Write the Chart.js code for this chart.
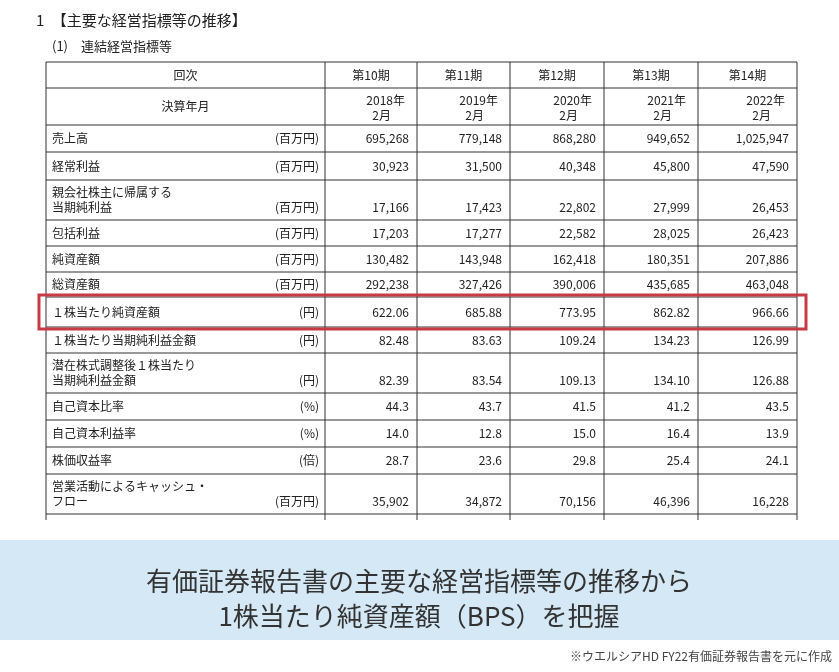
<!DOCTYPE html>
<html>
<head>
<meta charset="utf-8">
<script src="https://cdn.jsdelivr.net/npm/chart.js@4/dist/chart.umd.min.js"></script>
<style>
  html, body { margin: 0; padding: 0; background: #fff; }
  #wrap { width: 839px; height: 672px; }
</style>
</head>
<body>
<div id="wrap"><canvas id="tbl"></canvas></div>
<script>
// table content
var periods = ['第10期', '第11期', '第12期', '第13期', '第14期'];
var fiscalYears = ['2018年', '2019年', '2020年', '2021年', '2022年'];
var rowLabels = [
	['売上高'], ['経常利益'], ['親会社株主に帰属する', '当期純利益'], ['包括利益'],
	['純資産額'], ['総資産額'], ['１株当たり純資産額'], ['１株当たり当期純利益金額'],
	['潜在株式調整後１株当たり', '当期純利益金額'], ['自己資本比率'], ['自己資本利益率'],
	['株価収益率'], ['営業活動によるキャッシュ・', 'フロー']
];
var units = ['(百万円)', '(百万円)', '(百万円)', '(百万円)', '(百万円)', '(百万円)', '(円)', '(円)', '(円)', '(%)', '(%)', '(倍)', '(百万円)'];
var sales        = ['695,268', '779,148', '868,280', '949,652', '1,025,947'];
var ordinary     = ['30,923', '31,500', '40,348', '45,800', '47,590'];
var netIncome    = ['17,166', '17,423', '22,802', '27,999', '26,453'];
var comprehensive= ['17,203', '17,277', '22,582', '28,025', '26,423'];
var netAssets    = ['130,482', '143,948', '162,418', '180,351', '207,886'];
var totalAssets  = ['292,238', '327,426', '390,006', '435,685', '463,048'];
var bps          = ['622.06', '685.88', '773.95', '862.82', '966.66'];
var eps          = ['82.48', '83.63', '109.24', '134.23', '126.99'];
var dilutedEps   = ['82.39', '83.54', '109.13', '134.10', '126.88'];
var equityRatio  = ['44.3', '43.7', '41.5', '41.2', '43.5'];
var roe          = ['14.0', '12.8', '15.0', '16.4', '13.9'];
var per          = ['28.7', '23.6', '29.8', '25.4', '24.1'];
var operatingCf  = ['35,902', '34,872', '70,156', '46,396', '16,228'];
var rowValues = [sales, ordinary, netIncome, comprehensive, netAssets, totalAssets, bps, eps, dilutedEps, equityRatio, roe, per, operatingCf];

// layout (scale units = px of the reference)
var colEdges = [46, 325, 417, 510, 604, 698, 797];
var rowEdges = [62, 88, 125, 152, 180, 220, 246, 272, 297, 327, 353, 393, 420, 447, 474, 514];
var FONT = '"Noto Sans CJK JP", "Noto Sans", sans-serif';

var tablePlugin = {
	id: 'tablePlugin',
	afterDraw: function(chart) {
		var c = chart.ctx, xs = chart.scales.x, ys = chart.scales.y;
		var X = function(v) { return xs.getPixelForValue(v); };
		var Y = function(v) { return ys.getPixelForValue(v); };
		c.save();
		c.fillStyle = '#222';
		c.textBaseline = 'middle';

		// headings
		c.font = '15px ' + FONT;
		c.textAlign = 'left';
		c.fillText('1　【主要な経営指標等の推移】', 36, 20);
		c.font = '13px ' + FONT;
		c.fillText('(1)　連結経営指標等', 52, 46);

		// grid
		c.strokeStyle = '#333';
		c.lineWidth = 1;
		var bottom = rowEdges[rowEdges.length - 1];
		colEdges.forEach(function(v) {
			c.beginPath(); c.moveTo(X(v), Y(rowEdges[0])); c.lineTo(X(v), Y(bottom) + 6); c.stroke();
		});
		rowEdges.forEach(function(v) {
			c.beginPath(); c.moveTo(X(colEdges[0]), Y(v)); c.lineTo(X(colEdges[6]), Y(v)); c.stroke();
		});

		// header
		c.font = '12px ' + FONT;
		c.textAlign = 'center';
		var midLabel = (X(colEdges[0]) + X(colEdges[1])) / 2;
		c.fillText('回次', midLabel, (Y(rowEdges[0]) + Y(rowEdges[1])) / 2);
		c.fillText('決算年月', midLabel, (Y(rowEdges[1]) + Y(rowEdges[2])) / 2);
		periods.forEach(function(p, i) {
			var cx = (X(colEdges[i + 1]) + X(colEdges[i + 2])) / 2;
			c.textAlign = 'center';
			c.fillText(p, cx, (Y(rowEdges[0]) + Y(rowEdges[1])) / 2);
			c.textAlign = 'right';
			var rx = X(colEdges[i + 2]) - 12;
			c.fillText(fiscalYears[i], rx, Y(rowEdges[1]) + 12);
			c.fillText('2月', rx - 14, Y(rowEdges[1]) + 27);
		});

		// body
		c.font = '12px ' + FONT;
		rowLabels.forEach(function(lines, r) {
			var top = Y(rowEdges[r + 2]), bot = Y(rowEdges[r + 3]), cy = (top + bot) / 2;
			c.textAlign = 'left';
			lines.forEach(function(t, k) {
				c.fillText(t, X(colEdges[0]) + 6, cy + (k - (lines.length - 1) / 2) * 15);
			});
			c.textAlign = 'right';
			c.fillText(units[r], X(colEdges[1]) - 6, cy + (lines.length - 1) * 7.5);
			rowValues[r].forEach(function(v, i) {
				c.fillText(v, X(colEdges[i + 2]) - 8, cy + (lines.length - 1) * 7.5);
			});
		});

		// highlight box on BPS row
		c.strokeStyle = '#c83a44';
		c.lineWidth = 3;
		c.strokeRect(39, Y(rowEdges[8]) - 2, 767, Y(rowEdges[9]) - Y(rowEdges[8]) + 4);

		// caption band
		c.fillStyle = '#d4e8f5';
		c.fillRect(0, 540, 839, 100);
		c.fillStyle = '#333';
		c.textAlign = 'center';
		c.font = '26px ' + FONT;
		c.fillText('有価証券報告書の主要な経営指標等の推移から', 419, 581);
		c.fillText('1株当たり純資産額（BPS）を把握', 419, 616);
		c.font = '12px ' + FONT;
		c.textAlign = 'right';
		c.fillStyle = '#444';
		c.fillText('※ウエルシアHD FY22有価証券報告書を元に作成', 832, 656);
		c.restore();
	}
};

var chart = new Chart(document.getElementById('tbl').getContext('2d'), {
	type: 'scatter',
	data: { datasets: [{ data: [] }] },
	options: {
		responsive: true,
		maintainAspectRatio: false,
		animation: false,
		layout: { padding: { left: 46, right: 42, top: 62, bottom: 158 } },
		scales: {
			x: { display: false, min: 46, max: 797 },
			y: { display: false, min: 62, max: 514, reverse: true }
		},
		plugins: { legend: { display: false }, tooltip: { enabled: false } }
	},
	plugins: [tablePlugin]
});
</script>
</body>
</html>
